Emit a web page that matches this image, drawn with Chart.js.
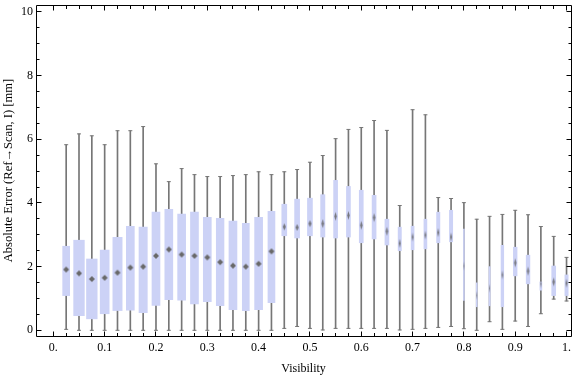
<!DOCTYPE html>
<html><head><meta charset="utf-8">
<script src="https://cdn.jsdelivr.net/npm/chart.js@4/dist/chart.umd.min.js"></script>
<style>html,body{margin:0;padding:0;background:#fff;}#wrap{width:576px;height:377px;}</style>
</head><body><div id="wrap"><canvas id="c" width="576" height="377"></canvas></div>
<script>
// ---- data ----
const visibility = [0.025,0.05,0.075,0.1,0.125,0.15,0.175,0.2,0.225,0.25,
  0.275,0.3,0.325,0.35,0.375,0.4,0.425,0.45,0.475,0.5,
  0.525,0.55,0.575,0.6,0.625,0.65,0.675,0.7,0.725,0.75,
  0.775,0.8,0.825,0.85,0.875,0.9,0.925,0.95,0.975,1.0];
const whiskerMin = [0.03,0,0,0,0,0,0,0,0,0,
  0,0,0,0,0,0,0,0.06,0.12,0.06,
  0.01,0.06,0.06,0.06,0.06,0.06,0.01,0.03,0.06,0.09,
  0.12,0.05,0,0.27,0.03,0.29,0.12,0.52,0.98,0.92];
const quartile1 = [1.09,0.46,0.36,0.52,0.62,0.63,0.55,0.78,0.96,0.95,
  0.83,0.90,0.77,0.65,0.62,0.65,0.87,2.97,2.90,2.97,
  2.93,2.90,2.93,2.75,2.87,2.68,2.50,2.53,2.56,2.75,
  2.78,0.94,0.74,0.77,0.74,1.71,1.46,1.26,1.09,1.09];
const medians = [1.91,1.79,1.61,1.65,1.81,1.97,2.00,2.34,2.54,2.38,
  2.34,2.29,2.14,2.03,2.00,2.09,2.48,3.25,3.23,3.35,
  3.35,3.58,3.61,3.30,3.54,3.11,2.73,2.93,2.99,3.07,
  2.93,2.02,1.10,1.32,1.74,2.12,1.86,1.46,1.52,1.48];
const quartile3 = [2.64,2.83,2.24,2.52,2.92,3.27,3.24,3.71,3.80,3.65,
  3.71,3.55,3.52,3.43,3.36,3.55,3.74,3.96,4.12,4.15,
  4.26,4.71,4.52,4.40,4.24,3.49,3.24,3.27,3.49,3.71,
  3.77,3.18,1.49,2.00,2.67,2.61,2.36,1.52,2.02,1.74];
const whiskerMax = [5.83,6.17,6.11,5.83,6.27,6.27,6.40,5.23,4.67,5.08,
  4.89,4.83,4.83,4.86,4.89,4.98,4.89,4.98,5.05,5.28,
  5.49,6.02,6.31,6.37,6.59,6.28,3.92,6.93,6.77,4.17,
  4.14,4.01,3.49,3.58,3.64,3.77,3.63,3.26,2.95,2.29];
// tick labels
const xMajorTicks = [0,0.1,0.2,0.3,0.4,0.5,0.6,0.7,0.8,0.9,1.0];
const xTickLabels = ['0.','0.1','0.2','0.3','0.4','0.5','0.6','0.7','0.8','0.9','1.'];
const yMajorTicks = [0,2,4,6,8,10];
const yTickLabels = ['0','2','4','6','8','10'];

// ---- styling (separate from data) ----
const boxPx = [7,10.7,10.7,9,9.3,8,8.3,8,8,8,
  8,8,7.7,8,7,8,7,5,5,5,
  4.3,4,4,4,4,4,3.3,3,3,3.3,
  3.3,1,1,1.3,2.7,3.7,3.7,2,4,3.3];
const BOX_COLOR = 'rgb(204,210,246)';
const WHISKER_COLOR = 'rgb(118,118,118)';

function makeDiamond(w, h, color) {
  const c = document.createElement('canvas');
  c.width = Math.ceil(w) + 2; c.height = Math.ceil(h) + 2;
  const g = c.getContext('2d');
  const cx = c.width / 2, cy = c.height / 2;
  g.fillStyle = color;
  g.beginPath();
  g.moveTo(cx, cy - h / 2); g.lineTo(cx + w / 2, cy); g.lineTo(cx, cy + h / 2); g.lineTo(cx - w / 2, cy);
  g.closePath(); g.fill();
  return c;
}
const markers = boxPx.map(bw => bw >= 7 ? makeDiamond(6, 6, 'rgb(105,105,105)')
  : makeDiamond(Math.max(0.8, bw * 0.6), bw >= 5 ? 7 : 9, 'rgba(100,100,100,0.85)'));

// minor tick positions
const xMinorTicks = []; for (let i = 0; i <= 40; i++) xMinorTicks.push(+(i * 0.025).toFixed(3));
const yMinorTicks = []; for (let i = 0; i <= 20; i++) yMinorTicks.push(i * 0.5);

const datasets = [];
datasets.push({
  type: 'bar', label: 'whisker', order: 4, grouped: false, barThickness: 1,
  backgroundColor: WHISKER_COLOR, borderWidth: 0,
  data: visibility.map((v, i) => ({x: v, y: [whiskerMin[i], whiskerMax[i]]}))
});
datasets.push({
  type: 'scatter', label: 'caps', order: 3,
  pointStyle: 'line', pointRadius: 2, borderColor: WHISKER_COLOR, pointBorderColor: WHISKER_COLOR, pointBorderWidth: 1,
  data: visibility.map((v, i) => ({x: v, y: whiskerMin[i]})).concat(visibility.map((v, i) => ({x: v, y: whiskerMax[i]})))
});
visibility.forEach((v, i) => {
  datasets.push({
    type: 'bar', label: 'box' + i, order: 2, grouped: false, barThickness: boxPx[i],
    backgroundColor: BOX_COLOR, borderWidth: 0,
    data: [{x: v, y: [quartile1[i], quartile3[i]]}]
  });
});
datasets.push({
  type: 'scatter', label: 'median', order: 1, pointRadius: 3,
  pointStyle: ctx => markers[ctx.dataIndex],
  data: visibility.map((v, i) => ({x: v, y: medians[i]}))
});

const framePlugin = {
  id: 'frame',
  afterDraw(chart) {
    const {ctx, chartArea: a, scales: {x, y}} = chart;
    ctx.save();
    ctx.strokeStyle = '#000'; ctx.lineWidth = 1;
    const L = Math.round(a.left) + 0.5, R = Math.round(a.right) + 0.5,
          T = Math.round(a.top) + 0.5, B = Math.round(a.bottom) + 0.5;
    ctx.beginPath();
    ctx.rect(L, T, R - L, B - T);
    xMinorTicks.forEach(v => {
      const major = xMajorTicks.some(m => Math.abs(m - v) < 1e-6);
      const len = major ? 5 : 3.5;
      const p = Math.floor(x.getPixelForValue(v)) + 0.5;
      ctx.moveTo(p, B); ctx.lineTo(p, B - len);
      ctx.moveTo(p, T); ctx.lineTo(p, T + len);
    });
    yMinorTicks.forEach(v => {
      const major = yMajorTicks.includes(v);
      const len = major ? 5 : 3;
      const p = Math.floor(y.getPixelForValue(v)) + 0.5;
      ctx.moveTo(L, p); ctx.lineTo(L + len, p);
      ctx.moveTo(R, p); ctx.lineTo(R - len, p);
    });
    ctx.stroke();
    ctx.restore();
  }
};

Chart.defaults.font.family = "'Liberation Serif','Times New Roman',serif";
Chart.defaults.font.size = 12;
Chart.defaults.color = '#000';

new Chart(document.getElementById('c'), {
  type: 'bar',
  data: {datasets},
  options: {
    responsive: false, animation: false, devicePixelRatio: 1, events: [],
    layout: {padding: {top: 4, right: 1, left: 0, bottom: 0}},
    plugins: {legend: {display: false}, tooltip: {enabled: false}},
    scales: {
      x: {
        type: 'linear', min: -0.0338, max: 1.0087, offset: false,
        afterBuildTicks: s => { s.ticks = xMinorTicks.map(v => ({value: v})); },
        afterFit: s => { s.height = 41; s.paddingLeft = 0; s.paddingRight = 0; },
        grid: {display: false, drawTicks: false}, border: {display: false},
        ticks: {padding: 5, autoSkip: false, maxRotation: 0, minRotation: 0,
          callback: v => { const k = xMajorTicks.findIndex(m => Math.abs(m - v) < 1e-6); return k >= 0 ? xTickLabels[k] : ''; }},
        title: {display: true, text: 'Visibility', padding: {top: 0, bottom: 1.3}}
      },
      y: {
        type: 'linear', min: -0.179, max: 10.219,
        afterBuildTicks: s => { s.ticks = yMinorTicks.map(v => ({value: v})); },
        afterFit: s => { s.width = 36; s.paddingTop = 0; s.paddingBottom = 0; },
        grid: {display: false, drawTicks: false}, border: {display: false},
        ticks: {padding: 3, autoSkip: false,
          callback: v => { const k = yMajorTicks.indexOf(v); return k >= 0 ? yTickLabels[k] : ''; }},
        title: {display: true, text: 'Absolute Error (Ref\u2192Scan, I) [mm]', font: {size: 12.6}, padding: {top: 1.5, bottom: 0}}
      }
    }
  },
  plugins: [framePlugin]
});
</script></body></html>
